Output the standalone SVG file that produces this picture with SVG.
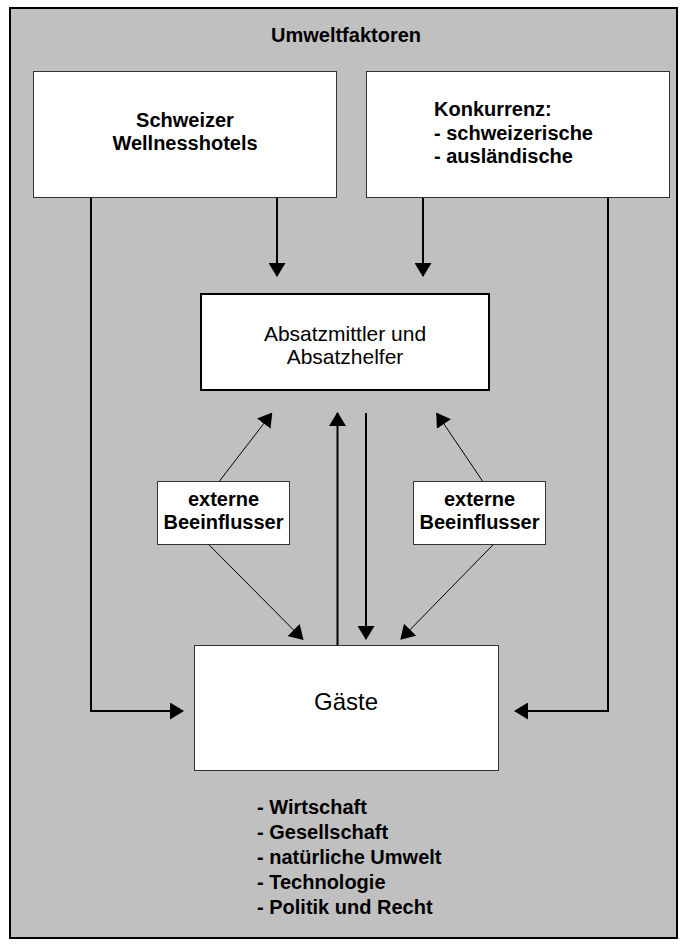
<svg xmlns="http://www.w3.org/2000/svg" width="685" height="945" viewBox="0 0 685 945">
<style>
text{font-family:"Liberation Sans",Arial,Helvetica,sans-serif;fill:#000}
.b{font-weight:bold;font-size:20px}
.r{font-size:21px}
.box{fill:#fff;stroke:#333;stroke-width:1}
.thick{stroke:#000;stroke-width:2;fill:none}
.thin{stroke:#000;stroke-width:1;fill:none}
</style>
<defs>
<marker id="ah" markerUnits="userSpaceOnUse" markerWidth="14" markerHeight="17" refX="13" refY="8.5" orient="auto" viewBox="0 0 14 17">
<path d="M0,0 L14,8.5 L0,17 Z" fill="#000"/>
</marker>
</defs>
<rect id="frame" x="10" y="8" width="667" height="930" fill="#c0c0c0" stroke="#000" stroke-width="2"/>
<text class="b" x="346" y="42" text-anchor="middle">Umweltfaktoren</text>

<g id="hotels">
<rect class="box" x="33.5" y="71.5" width="303" height="126"/>
<text class="b" x="185" y="127" text-anchor="middle">Schweizer</text>
<text class="b" x="185" y="150" text-anchor="middle">Wellnesshotels</text>
</g>
<g id="konkurrenz">
<rect class="box" x="366.5" y="71.5" width="303" height="126"/>
<text class="b" x="434" y="116">Konkurrenz:</text>
<text class="b" x="434" y="139.5">- schweizerische</text>
<text class="b" x="434" y="163">- ausländische</text>
</g>
<g id="absatzmittler">
<rect x="201" y="294" width="288" height="96" fill="#fff" stroke="#000" stroke-width="2"/>
<text class="r" x="345" y="341" text-anchor="middle">Absatzmittler und</text>
<text class="r" x="345" y="364" text-anchor="middle">Absatzhelfer</text>
</g>
<g id="beeinflusser-links">
<rect class="box" x="157.5" y="481.5" width="132" height="63"/>
<text class="b" x="223.5" y="506" text-anchor="middle">externe</text>
<text class="b" x="223.5" y="529" text-anchor="middle">Beeinflusser</text>
</g>
<g id="beeinflusser-rechts">
<rect class="box" x="413.5" y="481.5" width="132" height="63"/>
<text class="b" x="479.5" y="506" text-anchor="middle">externe</text>
<text class="b" x="479.5" y="529" text-anchor="middle">Beeinflusser</text>
</g>
<g id="gaeste">
<rect class="box" x="194.5" y="645.5" width="304" height="125"/>
<text x="346" y="710" text-anchor="middle" font-size="24">Gäste</text>
</g>
<g id="umwelt-liste">
<text class="b" x="257" y="814">- Wirtschaft</text>
<text class="b" x="257" y="839">- Gesellschaft</text>
<text class="b" x="257" y="864">- natürliche Umwelt</text>
<text class="b" x="257" y="889">- Technologie</text>
<text class="b" x="257" y="914">- Politik und Recht</text>
</g>
<g id="connectors">
<path class="thick" d="M277,198 V276" marker-end="url(#ah)"/>
<path class="thick" d="M423,198 V276" marker-end="url(#ah)"/>
<path class="thick" d="M91,198 V711 H183" marker-end="url(#ah)"/>
<path class="thick" d="M608,198 V711 H515" marker-end="url(#ah)"/>
<path class="thick" d="M337.5,645 V413" marker-end="url(#ah)"/>
<path class="thick" d="M366,413 V639" marker-end="url(#ah)"/>
<path class="thin" d="M219.5,481 L271.7,413.3" marker-end="url(#ah)"/>
<path class="thin" d="M208.7,544.5 L302.8,639.3" marker-end="url(#ah)"/>
<path class="thin" d="M482.5,481 L436.7,413.3" marker-end="url(#ah)"/>
<path class="thin" d="M493.3,544.5 L401,639" marker-end="url(#ah)"/>
</g>
</svg>
